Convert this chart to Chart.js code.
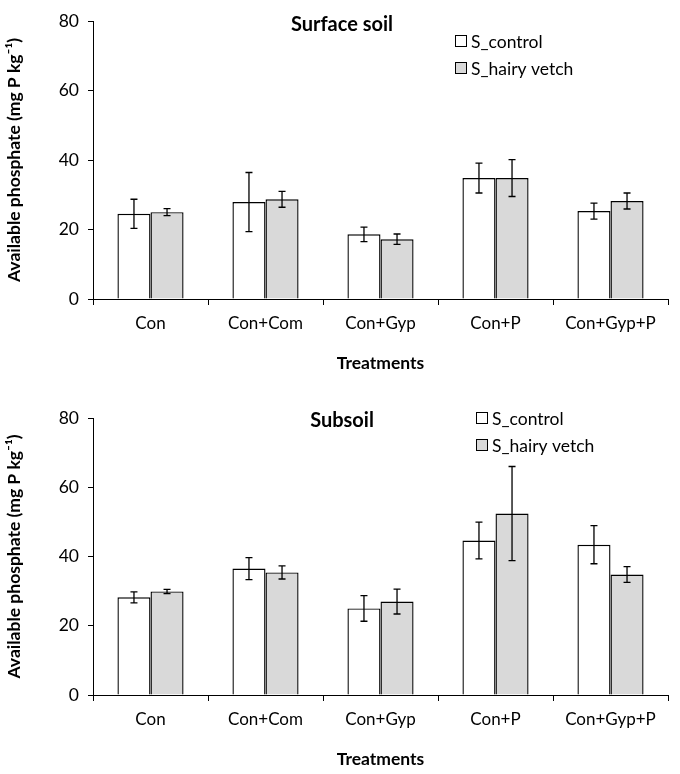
<!DOCTYPE html>
<html>
<head>
<meta charset="utf-8">
<script src="https://cdn.jsdelivr.net/npm/chart.js@4"></script>
<style>
  html, body { margin: 0; padding: 0; background: #fff; }
  #wrap1 { position: absolute; left: 0; top: 0; width: 680px; height: 390px; }
  #wrap2 { position: absolute; left: 0; top: 390px; width: 680px; height: 384px; }
</style>
</head>
<body>
<div id="wrap1"><canvas id="c1"></canvas></div>
<div id="wrap2"><canvas id="c2"></canvas></div>
<script>
// ---- data ----
const categories = ['Con', 'Con+Com', 'Con+Gyp', 'Con+P', 'Con+Gyp+P'];
const seriesNames = ['S_control', 'S_hairy vetch'];

const surfaceControl    = [24.5, 27.9, 18.6, 34.8, 25.3];
const surfaceControlErr = [4.2, 8.5, 2.1, 4.3, 2.3];
const surfaceVetch      = [25.0, 28.7, 17.2, 34.8, 28.2];
const surfaceVetchErr   = [1.0, 2.3, 1.5, 5.3, 2.3];

const subControl    = [28.2, 36.5, 25.0, 44.6, 43.4];
const subControlErr = [1.6, 3.2, 3.7, 5.3, 5.5];
const subVetch      = [29.9, 35.4, 27.0, 52.4, 34.8];
const subVetchErr   = [0.6, 1.9, 3.6, 13.6, 2.3];

const yMin = 0, yMax = 80, yStep = 20;
const panelTitles = ['Surface soil', 'Subsoil'];
const xTitle = 'Treatments';
const yTitle = 'Available phosphate (mg P kg\u207B\u00B9)';

// ---- styling ----
const FONT = 'Lato, "Open Sans", sans-serif';
const fillColors = ['#ffffff', '#d9d9d9'];

const errorBarPlugin = {
  id: 'errorBars',
  afterDatasetsDraw(chart) {
    const ctx = chart.ctx;
    const y = chart.scales.y;
    ctx.save();
    ctx.strokeStyle = '#000';
    ctx.lineWidth = 1.3;
    chart.data.datasets.forEach((ds, i) => {
      const meta = chart.getDatasetMeta(i);
      meta.data.forEach((bar, j) => {
        const v = ds.data[j], e = ds.errors[j];
        const yt = y.getPixelForValue(v + e), yb = y.getPixelForValue(v - e);
        const cap = 3.5;
        ctx.beginPath();
        ctx.moveTo(bar.x, yt); ctx.lineTo(bar.x, yb);
        ctx.moveTo(bar.x - cap, yt); ctx.lineTo(bar.x + cap, yt);
        ctx.moveTo(bar.x - cap, yb); ctx.lineTo(bar.x + cap, yb);
        ctx.stroke();
      });
    });
    ctx.restore();
  }
};

const panelDecorPlugin = {
  id: 'panelDecor',
  afterDraw(chart, args, opts) {
    const ctx = chart.ctx;
    ctx.save();
    // panel title
    ctx.fillStyle = '#000';
    ctx.font = 'bold 20px ' + FONT;
    ctx.textAlign = 'center';
    ctx.textBaseline = 'middle';
    ctx.fillText(opts.title, opts.titleX, opts.titleY);
    // legend
    ctx.font = '17.5px ' + FONT;
    ctx.textAlign = 'left';
    chart.data.datasets.forEach((ds, i) => {
      const yy = opts.legendY + i * opts.legendGap;
      ctx.fillStyle = ds.backgroundColor;
      ctx.fillRect(opts.legendX, yy - 6, 12, 12);
      ctx.strokeStyle = '#000';
      ctx.lineWidth = 1;
      ctx.strokeRect(opts.legendX + 0.5, yy - 5.5, 11, 11);
      ctx.fillStyle = '#000';
      ctx.fillText(ds.label, opts.legendX + 16, yy + 1);
    });
    ctx.restore();
  }
};

function makeChart(id, title, ctrl, ctrlErr, vetch, vetchErr, padTop, padBottom, decor) {
  return new Chart(document.getElementById(id), {
    type: 'bar',
    data: {
      labels: categories,
      datasets: [
        { label: seriesNames[0], data: ctrl, errors: ctrlErr, backgroundColor: fillColors[0],
          borderColor: '#000', borderWidth: 1.4 },
        { label: seriesNames[1], data: vetch, errors: vetchErr, backgroundColor: fillColors[1],
          borderColor: '#000', borderWidth: 1.4 }
      ]
    },
    options: {
      responsive: true,
      maintainAspectRatio: false,
      animation: false,
      events: [],
      layout: { padding: { top: padTop, right: 12, bottom: padBottom, left: 0 } },
      datasets: { bar: { categoryPercentage: 0.575, barPercentage: 1.0 } },
      plugins: {
        legend: { display: false },
        tooltip: { enabled: false },
        panelDecor: Object.assign({ title: title }, decor)
      },
      scales: {
        x: {
          offset: true,
          border: { display: true, color: '#000', width: 1 },
          grid: { offset: true, drawOnChartArea: false, drawTicks: true, tickLength: 6, color: '#000', lineWidth: 1 },
          ticks: { color: '#000', font: { family: FONT, size: 17 }, padding: 8, maxRotation: 0, autoSkip: false },
          title: { display: true, text: xTitle, color: '#000', font: { family: FONT, size: 17.5, weight: 'bold' }, padding: { top: 0, bottom: 4 } },
          afterFit(s) { s.height = 79; }
        },
        y: {
          min: yMin, max: yMax,
          border: { display: true, color: '#000', width: 1 },
          grid: { drawOnChartArea: false, drawTicks: true, tickLength: 5, color: '#000', lineWidth: 1 },
          ticks: { stepSize: yStep, color: '#000', font: { family: FONT, size: 17.5 }, padding: 9 },
          title: { display: true, text: yTitle, color: '#000', font: { family: FONT, size: 17.5, weight: 'bold' }, padding: { top: 4, bottom: 0 } },
          afterFit(s) { s.width = 93; }
        }
      }
    },
    plugins: [errorBarPlugin, panelDecorPlugin]
  });
}

makeChart('c1', panelTitles[0], surfaceControl, surfaceControlErr, surfaceVetch, surfaceVetchErr, 21, 12,
  { titleX: 342, titleY: 25, legendX: 455, legendY: 41, legendGap: 27 });
makeChart('c2', panelTitles[1], subControl, subControlErr, subVetch, subVetchErr, 28, 0,
  { titleX: 342, titleY: 31, legendX: 476, legendY: 28, legendGap: 27 });
</script>
</body>
</html>
